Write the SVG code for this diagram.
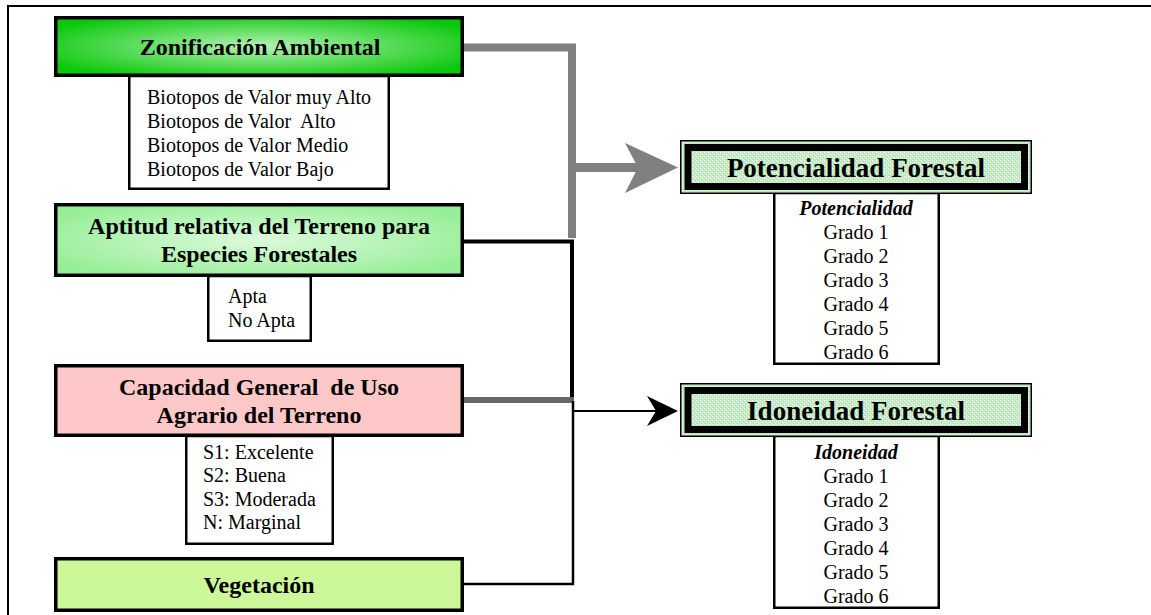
<svg xmlns="http://www.w3.org/2000/svg" width="1151" height="615" viewBox="0 0 1151 615">
  <defs>
    <radialGradient id="gZona" cx="50%" cy="50%" r="60%">
      <stop offset="0%" stop-color="#b4f2b4"/>
      <stop offset="100%" stop-color="#0cc80c"/>
    </radialGradient>
    <radialGradient id="gApt" cx="50%" cy="50%" r="60%">
      <stop offset="0%" stop-color="#dcfadc"/>
      <stop offset="100%" stop-color="#96ee96"/>
    </radialGradient>
    <pattern id="dots" width="4" height="4" patternUnits="userSpaceOnUse">
      <rect width="4" height="4" fill="#c6eec6"/>
      <rect x="0" y="0" width="1" height="1" fill="#ffffff"/>
      <rect x="2" y="2" width="1" height="1" fill="#f0fff0"/>
      <rect x="1" y="3" width="1" height="1" fill="#a4dea4"/>
      <rect x="3" y="1" width="1" height="1" fill="#b0e4b0"/>
    </pattern>
    <style>
      .head { stroke: #000; stroke-width: 3.5; }
      .sub { fill: #fff; stroke: #000; stroke-width: 2.5; }
      .ht { font-family: "Liberation Serif", "Times New Roman", serif; font-weight: bold; font-size: 24px; fill: #000; text-anchor: middle; }
      .bt { font-family: "Liberation Serif", "Times New Roman", serif; font-size: 20px; fill: #000; }
      .rt { font-family: "Liberation Serif", "Times New Roman", serif; font-size: 20px; fill: #000; text-anchor: middle; }
      .rh { font-family: "Liberation Serif", "Times New Roman", serif; font-weight: bold; font-style: italic; font-size: 20px; fill: #000; text-anchor: middle; }
      .big { font-family: "Liberation Serif", "Times New Roman", serif; font-weight: bold; font-size: 27px; fill: #000; text-anchor: middle; }
      .outer { fill: url(#dots); stroke: #000; stroke-width: 1.5; }
      .inner { fill: url(#dots); stroke: #000; stroke-width: 7; }
    </style>
  </defs>

  <rect width="1151" height="615" fill="#ffffff"/>

  <!-- page frame -->
  <path d="M8,615 V6 H1151" fill="none" stroke="#000" stroke-width="2"/>

  <!-- connectors -->
  <g id="connectors">
    <!-- grey branch into Potencialidad Forestal -->
    <path d="M464,47.5 H572 V238" fill="none" stroke="#808080" stroke-width="8"/>
    <line x1="572" y1="167.5" x2="640" y2="167.5" stroke="#808080" stroke-width="9"/>
    <polygon points="625,143 678,167.5 625,193 638,167.5" fill="#808080"/>
    <!-- black branch into Idoneidad Forestal -->
    <path d="M464,241.5 H572 V403" fill="none" stroke="#000" stroke-width="4"/>
    <line x1="464" y1="400" x2="574" y2="400" stroke="#666" stroke-width="6"/>
    <path d="M464,584 H573 V401" fill="none" stroke="#000" stroke-width="2.5"/>
    <line x1="573" y1="411" x2="658" y2="411" stroke="#000" stroke-width="2"/>
    <polygon points="647,396 678,411 647,426 656,411" fill="#000"/>
  </g>

  <!-- Zonificación Ambiental -->
  <g id="zonificacion">
    <rect class="sub" x="129.25" y="76" width="259.5" height="112.75"/>
    <rect class="head" x="55.75" y="17.75" width="406.5" height="57.5" fill="url(#gZona)"/>
    <text class="ht" x="260" y="55">Zonificación Ambiental</text>
    <text class="bt" x="147" y="104">Biotopos de Valor muy Alto</text>
    <text class="bt" x="147" y="128" xml:space="preserve">Biotopos de Valor  Alto</text>
    <text class="bt" x="147" y="152">Biotopos de Valor Medio</text>
    <text class="bt" x="147" y="176">Biotopos de Valor Bajo</text>
  </g>

  <!-- Aptitud relativa del Terreno -->
  <g id="aptitud">
    <rect class="sub" x="208.25" y="276" width="102.5" height="64.75"/>
    <rect class="head" x="55.75" y="204.75" width="406.5" height="70.5" fill="url(#gApt)"/>
    <text class="ht" x="259" y="234">Aptitud relativa del Terreno para</text>
    <text class="ht" x="259" y="262">Especies Forestales</text>
    <text class="bt" x="228" y="303">Apta</text>
    <text class="bt" x="228" y="327">No Apta</text>
  </g>

  <!-- Capacidad General de Uso -->
  <g id="capacidad">
    <rect class="sub" x="186.25" y="436" width="146.5" height="107.75"/>
    <rect class="head" x="55.75" y="365.75" width="406.5" height="69.5" fill="#ffc8c8"/>
    <text class="ht" x="259" y="395" xml:space="preserve">Capacidad General  de Uso</text>
    <text class="ht" x="259" y="423">Agrario del Terreno</text>
    <text class="bt" x="203" y="459">S1: Excelente</text>
    <text class="bt" x="203" y="482">S2: Buena</text>
    <text class="bt" x="203" y="506">S3: Moderada</text>
    <text class="bt" x="203" y="529">N: Marginal</text>
  </g>

  <!-- Vegetación -->
  <g id="vegetacion">
    <rect class="head" x="55.75" y="558.75" width="406.5" height="51.5" fill="#ccf899"/>
    <text class="ht" x="259" y="593">Vegetación</text>
  </g>

  <!-- Potencialidad Forestal -->
  <g id="potencialidad">
    <rect class="sub" x="774.25" y="193" width="164.5" height="170.75"/>
    <rect class="outer" x="680.75" y="140.75" width="350.5" height="52.5"/>
    <rect class="inner" x="688" y="147.5" width="336.5" height="39"/>
    <text class="big" x="856" y="177">Potencialidad Forestal</text>
    <text class="rh" x="856" y="215">Potencialidad</text>
    <text class="rt" x="856" y="239">Grado 1</text>
    <text class="rt" x="856" y="263">Grado 2</text>
    <text class="rt" x="856" y="287">Grado 3</text>
    <text class="rt" x="856" y="311">Grado 4</text>
    <text class="rt" x="856" y="335">Grado 5</text>
    <text class="rt" x="856" y="359">Grado 6</text>
  </g>

  <!-- Idoneidad Forestal -->
  <g id="idoneidad">
    <rect class="sub" x="774.25" y="436" width="164.5" height="171.75"/>
    <rect class="outer" x="680.75" y="383.75" width="350.5" height="52.5"/>
    <rect class="inner" x="688" y="390.5" width="336.5" height="39"/>
    <text class="big" x="856" y="420">Idoneidad Forestal</text>
    <text class="rh" x="856" y="459">Idoneidad</text>
    <text class="rt" x="856" y="483">Grado 1</text>
    <text class="rt" x="856" y="507">Grado 2</text>
    <text class="rt" x="856" y="531">Grado 3</text>
    <text class="rt" x="856" y="555">Grado 4</text>
    <text class="rt" x="856" y="579">Grado 5</text>
    <text class="rt" x="856" y="603">Grado 6</text>
  </g>
</svg>
